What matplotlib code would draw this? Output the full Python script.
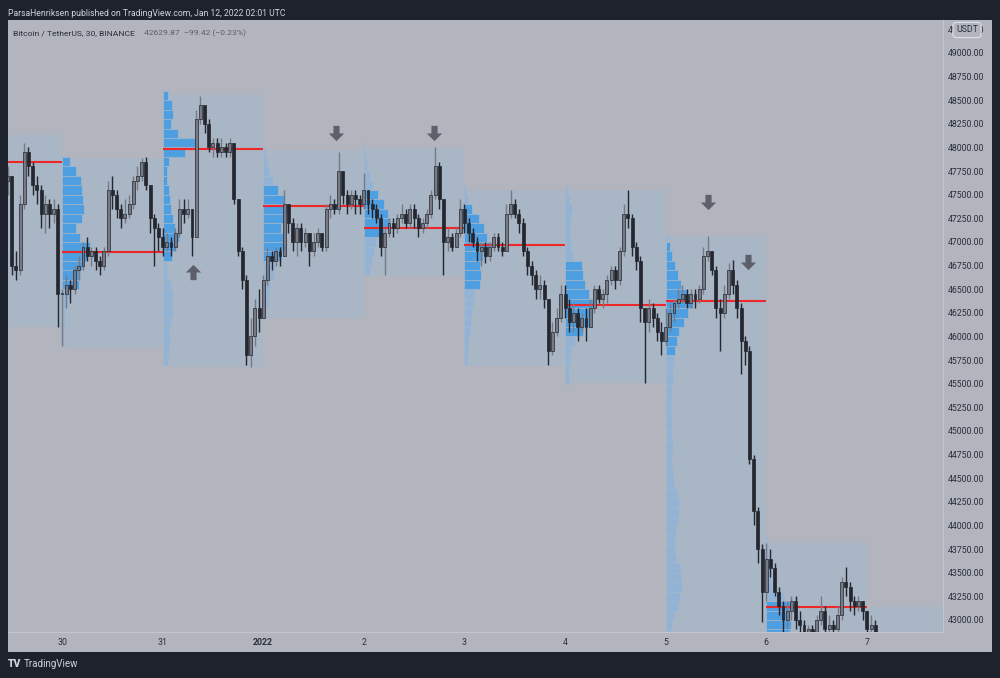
import numpy as np
import matplotlib.pyplot as plt
from matplotlib.path import Path

plt.rcParams['font.family'] = ['Roboto', 'DejaVu Sans']

# BTCUSDT bars, 1h, first bar Dec 29 11:00 UTC (x axis in days from Dec 30 00:00)
t0 = -13 / 24
first_open = 47650
close = [
    # Dec 29
    47700, 46750, 46700, 47400, 47950, 47800, 47600, 47550, 47300, 47400, 47300, 47350, 46450,
    # Dec 30
    46450, 46550, 46500, 46700, 46750, 46950, 46850, 46900, 46800, 46750, 46900, 47550,
    47500, 47350, 47250, 47300, 47400, 47650, 47700, 47850, 47600, 47250, 47150, 47050,
    # Dec 31
    46950, 47000, 46950, 47100, 47350, 47300, 47350, 47050, 48300, 48450, 48250, 48000,
    48050, 47950, 48000, 47950, 48050, 47450, 46900, 46600, 45800, 46000, 46300, 46200,
    # Jan 1
    46600, 46850, 46800, 46900, 46850, 47400, 47200, 47000, 47150, 47000, 47100, 46900,
    47000, 47100, 46950, 47350, 47400, 47350, 47750, 47500, 47400, 47500, 47450, 47400,
    # Jan 2
    47550, 47400, 47350, 47250, 46950, 47100, 47200, 47150, 47250, 47300, 47200, 47350,
    47250, 47150, 47200, 47300, 47500, 47800, 47450, 47000, 47050, 46950, 47100, 47350,
    # Jan 3
    47200, 47100, 47000, 46900, 46950, 46850, 46950, 47050, 46950, 46900, 47300, 47400,
    47300, 47200, 46900, 46750, 46650, 46500, 46550, 46400, 45850, 46050, 46200, 46450,
    # Jan 4
    46300, 46150, 46250, 46100, 46200, 46100, 46300, 46500, 46400, 46450, 46600, 46700,
    46600, 46900, 47300, 47250, 46950, 46800, 46300, 46150, 46300, 46200, 46050, 45950,
    # Jan 5
    46100, 46250, 46350, 46400, 46450, 46350, 46450, 46400, 46500, 46850, 46900, 46700,
    46300, 46250, 46450, 46700, 46550, 46300, 45950, 45850, 44700, 44150, 43750, 43300,
    # Jan 6
    43650, 43550, 43300, 43150, 43000, 43100, 43200, 43000, 42950, 42850, 42900, 42850,
    43000, 43100, 42900, 42950, 42900, 43050, 43400, 43350, 43200, 43150, 43200, 43100,
    # Jan 7
    42900, 42950, 42850,
]
high = [
    47800, 47700, 46900, 47500, 48050, 48000, 47850, 47700, 47600, 47500, 47450, 47450, 47400,
    46500, 46650, 46600, 46750, 46850, 47000, 47050, 46950, 46950, 46850, 46950, 47650,
    47700, 47550, 47400, 47450, 47500, 47700, 47800, 47890, 47900, 47600, 47300, 47200,
    47150, 47100, 47050, 47150, 47450, 47450, 47450, 47350, 48400, 48550, 48450, 48300,
    48100, 48100, 48100, 48050, 48100, 48050, 47450, 46950, 46650, 46200, 46400, 46500,
    46650, 46950, 46900, 46950, 46950, 47550, 47400, 47250, 47200, 47200, 47150, 47100,
    47100, 47150, 47100, 47400, 47500, 47450, 47950, 47750, 47550, 47550, 47550, 47500,
    47730, 47550, 47450, 47400, 47300, 47150, 47250, 47250, 47300, 47400, 47350, 47400,
    47400, 47300, 47250, 47350, 47550, 48000, 47850, 47450, 47150, 47100, 47150, 47450,
    47400, 47250, 47150, 47050, 47000, 47000, 47000, 47100, 47100, 47000, 47400, 47550,
    47450, 47350, 47250, 46950, 46800, 46700, 46650, 46600, 46400, 46150, 46300, 46550,
    46550, 46400, 46350, 46300, 46250, 46300, 46400, 46550, 46550, 46500, 46650, 46750,
    46750, 46950, 47400, 47550, 47300, 47000, 46850, 46300, 46400, 46350, 46250, 46150,
    46300, 46350, 46400, 46500, 46550, 46500, 46500, 46500, 46550, 46950, 47060, 46900,
    46750, 46400, 46550, 46780, 46810, 46600, 46350, 46000, 45900, 44750, 44200, 43800,
    43810, 43750, 43600, 43350, 43200, 43200, 43250, 43250, 43100, 43000, 42950, 42950,
    43050, 43250, 43150, 43050, 43000, 43150, 43450, 43560, 43400, 43250, 43250, 43200,
    43100, 43050, 43000,
]
low = [
    47500, 46650, 46600, 46650, 47350, 47700, 47500, 47400, 47150, 47100, 47150, 47200, 46100,
    45900, 46300, 46350, 46450, 46600, 46700, 46800, 46750, 46700, 46650, 46700, 46850,
    47350, 47250, 47150, 47200, 47250, 47350, 47550, 47650, 47550, 47100, 46750, 46900,
    46850, 46900, 46850, 46900, 47050, 47200, 47250, 46850, 47050, 48250, 48150, 47950,
    47900, 47900, 47900, 47900, 47900, 47400, 46850, 46500, 45700, 45680, 45900, 46050,
    46200, 46550, 46700, 46750, 46750, 46850, 47100, 46900, 46850, 46900, 46950, 46750,
    46850, 46950, 46900, 46900, 47250, 47300, 47300, 47400, 47300, 47350, 47300, 47300,
    47350, 47300, 47250, 47200, 46850, 46650, 47050, 47050, 47100, 47200, 47150, 47150,
    47150, 47050, 47100, 47150, 47250, 47450, 47350, 46650, 46900, 46900, 46950, 47050,
    47100, 47000, 46950, 46800, 46750, 46780, 46800, 46900, 46900, 46850, 46900, 47250,
    47250, 47100, 46850, 46650, 46550, 46400, 46400, 46300, 45700, 45800, 46000, 46150,
    46200, 46050, 46050, 45950, 46050, 45950, 46100, 46250, 46350, 46300, 46350, 46550,
    46500, 46550, 46850, 47150, 46850, 46700, 46150, 45510, 46050, 46100, 45950, 45800,
    45900, 46050, 46150, 46300, 46350, 46300, 46300, 46300, 46350, 46450, 46800, 46650,
    46200, 45850, 46200, 46400, 46450, 46200, 45600, 45700, 44650, 44000, 43600, 42980,
    43200, 43450, 43250, 43050, 42850, 42900, 43000, 42900, 42750, 42700, 42750, 42700,
    42800, 42950, 42850, 42800, 42800, 42850, 43000, 43250, 43100, 43050, 43100, 43000,
    42800, 42850, 42800,
]

# daily sessions (Dec 29 .. Jan 7)
sess_start = [-1, 0, 1, 2, 3, 4, 5, 6, 7, 8]
sess_high = [48130, 47890, 48560, 47975, 47995, 47550, 47550, 47065, 43815, 43140]
sess_low = [46100, 45890, 45680, 46200, 46640, 45690, 45510, 42500, 42500, 42500]
poc_start = [-1, 0, 1, 2, 3, 4, 5, 6, 7]
poc_price = [47850, 46895, 47985, 47380, 47150, 46970, 46335, 46375, 43140]

# volume profile rows of 100 USDT, bottom-up, width in % of the session
prof_dec30 = [2, 2, 3, 3, 5, 9, 17, 18, 20, 25, 28, 18, 14, 20, 22, 21, 20, 19, 14, 8]
prof_dec31 = [5, 6, 7, 6, 8, 10, 9, 10, 8, 4, 4, 9, 12, 16, 12, 10, 8, 7, 6, 4, 4, 6,
              22, 32, 15, 8, 10, 9, 5]
prof_jan1 = [3, 5, 6, 7, 11, 12, 18, 21, 20, 18, 21, 27, 22, 15, 10, 6, 4, 2]
prof_jan2 = [6, 8, 10, 12, 20, 26, 24, 20, 14, 9, 6, 3, 2, 1]
prof_jan3 = [3, 4, 5, 6, 7, 8, 9, 10, 15, 16, 15, 18, 25, 22, 19, 14, 8, 4, 2]
prof_jan4 = [4, 4, 5, 6, 10, 18, 26, 27, 28, 24, 20, 18, 17, 8, 6, 5, 5, 6, 7, 4, 2]
prof_jan5 = [4, 4, 5, 6, 8, 12, 14, 16, 15, 14, 10, 9, 9, 10, 12, 13, 13, 11, 8, 7, 6,
             6, 7, 6, 6, 6, 5, 6, 6, 7, 7, 8, 9, 11, 13, 18, 22, 27, 21, 15, 12, 9, 6, 4, 2]
prof_jan6 = [15, 20, 22, 24, 25, 24, 26, 18, 6, 5, 4, 3, 2, 1]
profiles = [prof_dec30, prof_dec31, prof_jan1, prof_jan2, prof_jan3, prof_jan4, prof_jan5, prof_jan6]
prof_day = [0, 1, 2, 3, 4, 5, 6, 7]
prof_base = [45900, 45700, 46200, 46650, 45700, 45500, 42600, 42500]
va_low = [46500, 46800, 46780, 47050, 46460, 45990, 45800, 42500]
va_high = [47900, 48560, 47550, 47550, 47370, 46810, 47000, 43240]

# annotation arrows
arrow_x = [2.724, 3.698, 6.421, 6.819, 1.302]
arrow_y = [48150, 48150, 47425, 46790, 46685]
arrow_up = [False, False, False, False, True]

day_ticks = [0, 1, 2, 3, 4, 5, 6, 7, 8]
day_labels = ['30', '31', '2022', '2', '3', '4', '5', '6', '7']

FRAME = '#1e222d'
BG = '#b2b5be'
BOX = '#a9b6c6'
VA_BLUE = '#4d9fe2'
OUT_BLUE = '#93b3d6'
POC_RED = '#ee2828'
UP = '#777a84'
DOWN = '#24272f'
TXT = '#2a2e39'
W, H = 1000, 678

fig = plt.figure(figsize=(10, 6.78), dpi=100, facecolor=FRAME)

# panel background incl. price and time scale
bg = fig.add_axes([8 / W, 1 - 652 / H, 984 / W, 632 / H])
bg.set_facecolor(BG)
bg.set_xticks([])
bg.set_yticks([])
for s in bg.spines.values():
    s.set_visible(False)

ax = fig.add_axes([8 / W, 1 - 632 / H, 935 / W, 612 / H])
ax.set_facecolor(BG)
ax.set_xlim(-0.537, 8.757)
ax.set_ylim(42873, 49349)

# session boxes
for st, hi, lo in zip(sess_start, sess_high, sess_low):
    ax.bar(st, hi - lo, bottom=lo, width=1, align='edge', color=BOX, zorder=1, lw=0)

# volume profiles
for prof, d, base, vl, vh in zip(profiles, prof_day, prof_base, va_low, va_high):
    rows = base + 100 * np.arange(len(prof))
    w = np.array(prof) / 100
    cols = [VA_BLUE if vl <= r + 50 <= vh else OUT_BLUE for r in rows]
    ax.barh(rows, w, left=d, height=100, align='edge', color=cols,
            edgecolor=BOX, lw=0.5, zorder=2)

# point of control
for st, p in zip(poc_start, poc_price):
    ax.hlines(p, st, st + 1, color=POC_RED, lw=1.5, zorder=3)

# candles
c = np.array(close)
o = np.array([first_open] + close[:-1])
x = t0 + np.arange(len(c)) / 24
cols = [UP if cc >= oo else DOWN for cc, oo in zip(c, o)]
ax.vlines(x, low, high, colors=cols, lw=1.0, zorder=4)
body = np.maximum(np.abs(c - o), 12)
ax.bar(x, body, bottom=np.minimum(c, o), width=0.7 / 24, color=cols,
       edgecolor=DOWN, lw=0.5, zorder=5)

# arrows
down_arrow = Path([(-0.2, 0.5), (0.2, 0.5), (0.2, 0.0), (0.5, 0.0), (0.0, -0.5),
                   (-0.5, 0.0), (-0.2, 0.0), (-0.2, 0.5)], closed=True)
up_arrow = Path([(px, -py) for px, py in down_arrow.vertices], closed=True)
for ax_x, ax_y, is_up in zip(arrow_x, arrow_y, arrow_up):
    ax.plot(ax_x, ax_y, marker=up_arrow if is_up else down_arrow, ms=11,
            color='#5d606b', mec='none', zorder=6)

# axes styling
for side in ['top', 'left']:
    ax.spines[side].set_visible(False)
for side in ['bottom', 'right']:
    ax.spines[side].set_color('#c3c6cd')
    ax.spines[side].set_linewidth(0.8)
ax.yaxis.tick_right()
price_ticks = np.arange(43000, 49251, 250)
ax.set_yticks(price_ticks)
ax.set_yticklabels(['{:.2f}'.format(p) for p in price_ticks])
ax.tick_params(axis='y', length=0, pad=3.5, labelsize=6.3, labelcolor=TXT)
ax.set_xticks(day_ticks)
ax.set_xticklabels(day_labels)
ax.tick_params(axis='x', length=0, pad=4, labelsize=6.3, labelcolor=TXT)
for lab in ax.get_xticklabels():
    if lab.get_text() == '2022':
        lab.set_fontweight('bold')

# texts
fig.text(8 / W, 1 - 13 / H, 'ParsaHenriksen published on TradingView.com, Jan 12, 2022 02:01 UTC',
         color='#d1d4dc', fontsize=6.2, va='center', ha='left')
fig.text(13 / W, 1 - 33 / H, 'Bitcoin / TetherUS, 30, BINANCE', color=TXT,
         fontsize=6.1, va='center', ha='left')
fig.text(144 / W, 1 - 33 / H, '42629.87  \u221299.42 (\u22120.23%)', color='#5d606b',
         fontsize=6.1, va='center', ha='left')
fig.text(967 / W, 1 - 30 / H, 'USDT', color=TXT, fontsize=6.3, va='center', ha='center',
         bbox=dict(boxstyle='round,pad=0.35', fc=BG, ec='#dfe1e6', lw=0.8))
fig.text(8 / W, 1 - 664 / H, 'TV', color='#d1d4dc', fontsize=7.5, fontweight='heavy',
         va='center', ha='left')
fig.text(24 / W, 1 - 664 / H, 'TradingView', color='#d1d4dc', fontsize=7,
         va='center', ha='left')

fig.savefig('out.png', dpi=100, facecolor=FRAME)
